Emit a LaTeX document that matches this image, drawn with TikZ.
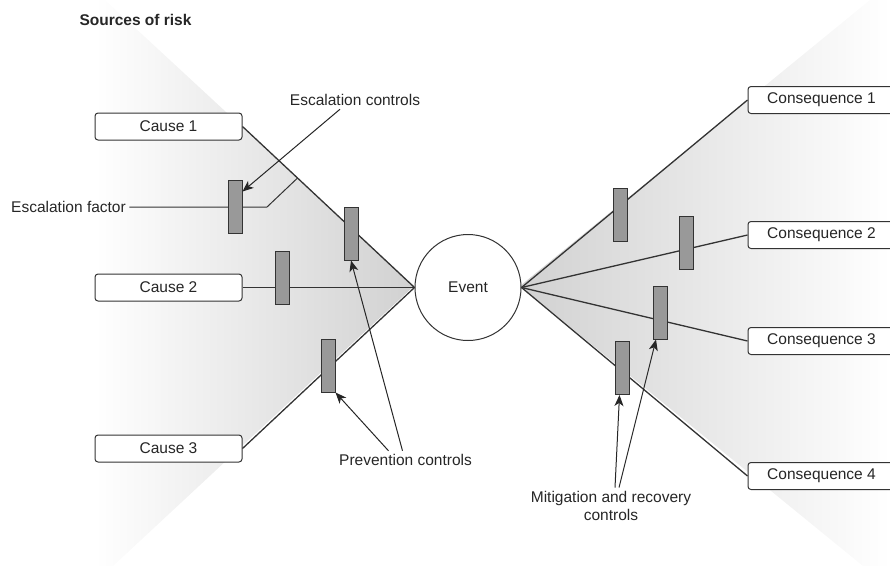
\documentclass[tikz,border=0pt]{standalone}
\usepackage{fontspec}
\setmainfont{Liberation Sans}
\usetikzlibrary{
    arrows.meta,
    positioning,
    calc
}

\begin{document}
\begin{tikzpicture}[
    x=1pt, y=-1pt,
    font=\fontsize{15.5}{18.5}\selectfont,
    text=black!85,
    riskbox/.style={rectangle, draw=black!80, line width=1pt, rounded corners=3pt, minimum height=27pt, minimum width=147pt, fill=white},
    eventnode/.style={circle, draw=black!80, line width=1pt, minimum size=106pt, inner sep=0pt, fill=white},
    barrier/.style={rectangle, draw=black!80, line width=1pt, fill=black!40, minimum width=14pt, minimum height=53pt, inner sep=0pt},
    link/.style={draw=black!80, line width=1.3pt},
    thinlink/.style={draw=black!80, line width=1pt},
    arrow/.style={-{Stealth[length=11pt, width=9pt, inset=3pt]}, draw=black!85, line width=1pt},
    label/.style={align=center}
]
\useasboundingbox (0,0) rectangle (890,566);

% Shaded wedges
\shade[left color=white, right color=black!18] (414,286) -- (105,0) -- (95,0) -- (95,566) -- (113,566) -- cycle;
\shade[left color=black!18, right color=white] (520,286) -- (870,0) -- (890,0) -- (890,566) -- (863,566) -- cycle;

\node[font=\fontsize{15.5}{18.5}\selectfont\bfseries] (title) at (135.5,20) {Sources of risk};

\node[riskbox] (cause1) at (168.5,126.5) {Cause 1};
\node[riskbox, below=133pt of cause1] (cause2) {Cause 2};
\node[riskbox, below=133pt of cause2] (cause3) {Cause 3};
\node[eventnode, right=172pt of cause2] (event) {Event};

\node[riskbox] (cons1) at (821.5,100) {Consequence 1};
\node[riskbox, below=107pt of cons1] (cons2) {Consequence 2};
\node[riskbox, below=78pt of cons2] (cons3) {Consequence 3};
\node[riskbox, below=107pt of cons3] (cons4) {Consequence 4};

\draw[link] (cause1.east) -- (event.west);
\draw[thinlink] (cause2.east) -- (event.west);
\draw[link] (cause3.east) -- (event.west);
\draw[link] (event.east) -- (cons1.west);
\draw[link] (event.east) -- (cons2.west);
\draw[link] (event.east) -- (cons3.west);
\draw[link] (event.east) -- (cons4.west);

% Escalation factor
\node (esctext) at (68.5,207) {Escalation factor};
\coordinate (escbend) at (267,207);
\coordinate (escjoin) at ($(cause1.east)!0.32!(event.west)$);
\draw[thinlink] (esctext.east) -- (escbend) -- (escjoin);

\node[barrier] (escbar) at (235,206.5) {};
\node[barrier] (bar1) at (351,233.5) {};
\node[barrier] (bar2) at (282,278) {};
\node[barrier] (bar3) at (328,365.5) {};
\node[barrier] (cbar1) at (620,214.5) {};
\node[barrier] (cbar2) at (686,242.5) {};
\node[barrier] (cbar3) at (660,312.5) {};
\node[barrier] (cbar4) at (622.5,368) {};

\node[label] (escctrl) at (355,100) {Escalation controls};
\node[label] (prevctrl) at (405.5,460) {Prevention controls};
\node[label] (mitctrl) at (611,506) {Mitigation and recovery\\controls};

\draw[arrow] ([xshift=-15pt]escctrl.south) -- ([yshift=-12pt]escbar.north east);
\draw[arrow] ([xshift=-17pt]prevctrl.north) -- (bar3.south east);
\draw[arrow] ([xshift=-3pt]prevctrl.north) -- (bar1.south);
\draw[arrow] ([xshift=4pt]mitctrl.north) -- ([xshift=-3pt]cbar4.south);
\draw[arrow] ([xshift=8pt]mitctrl.north) -- ([xshift=-4pt]cbar3.south);
\end{tikzpicture}
\end{document}
